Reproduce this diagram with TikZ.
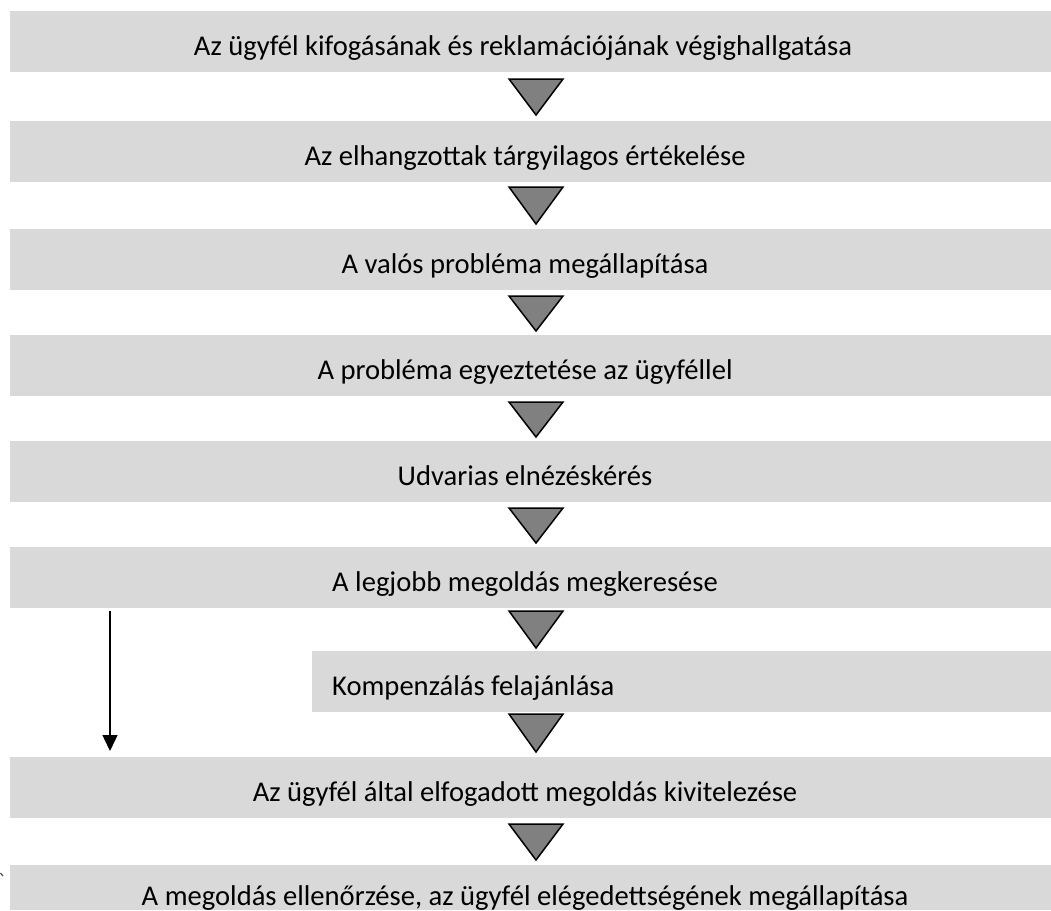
\documentclass[tikz,border=0pt]{standalone}
\usepackage{fontspec}
\setmainfont{Carlito}
\usetikzlibrary{arrows.meta}
\definecolor{boxgrey}{HTML}{D9D9D9}
\definecolor{trigrey}{HTML}{808080}
\tikzset{
  stepbox/.style={fill=boxgrey, draw=none, inner sep=0pt, anchor=north west, minimum height=61pt},
  steptext/.style={font=\fontsize{28.6}{34}\selectfont, inner sep=0pt, anchor=base, text=black},
  tri/.style={fill=trigrey, draw=black, line width=1.5pt, line join=miter},
  downarrow/.style={draw=black, line width=1.3pt, -{Triangle[width=15pt,length=16pt]}}
}
\begin{document}
\begin{tikzpicture}[x=1pt,y=-1pt]
\useasboundingbox (0,0) rectangle (1051,910);
% boxes
\node[stepbox, minimum width=1041pt] (b1) at (10,11) {};
\node[stepbox, minimum width=1041pt] (b2) at (10,121) {};
\node[stepbox, minimum width=1041pt] (b3) at (10,229) {};
\node[stepbox, minimum width=1041pt] (b4) at (10,335) {};
\node[stepbox, minimum width=1041pt] (b5) at (10,441) {};
\node[stepbox, minimum width=1041pt] (b6) at (10,547) {};
\node[stepbox, minimum width=739pt] (b7) at (312,651) {};
\node[stepbox, minimum width=1041pt] (b8) at (10,757) {};
\node[stepbox, minimum width=1041pt, minimum height=45pt] (b9) at (10,865) {};
% texts
\node[steptext] (t1) at (523,55) {Az ügyfél kifogásának és reklamációjának végighallgatása};
\node[steptext] (t2) at (525,165) {Az elhangzottak tárgyilagos értékelése};
\node[steptext] (t3) at (525,273) {A valós probléma megállapítása};
\node[steptext] (t4) at (525,379) {A probléma egyeztetése az ügyféllel};
\node[steptext] (t5) at (525,485) {Udvarias elnézéskérés};
\node[steptext] (t6) at (525,591) {A legjobb megoldás megkeresése};
\node[steptext, anchor=base west] (t7) at (332,695) {Kompenzálás felajánlása};
\node[steptext] (t8) at (525,801) {Az ügyfél által elfogadott megoldás kivitelezése};
\node[steptext] (t9) at (525,905) {A megoldás ellenőrzése, az ügyfél elégedettségének megállapítása};
% triangles
\foreach \ya/\yb in {79/115, 187/224, 296/331, 402/437, 508/543, 611/648, 714/752, 824/860}{
  \draw[tri] (509,\ya) -- (563,\ya) -- (536,\yb) -- cycle;
}
% side arrow
\coordinate (a1) at (110,611);
\coordinate (a2) at (110,751);
\draw[downarrow] (a1) -- (a2);
% small mark
\draw[black!70, line width=1.2pt] (0.5,873) -- (3,876);
\end{tikzpicture}
\end{document}
